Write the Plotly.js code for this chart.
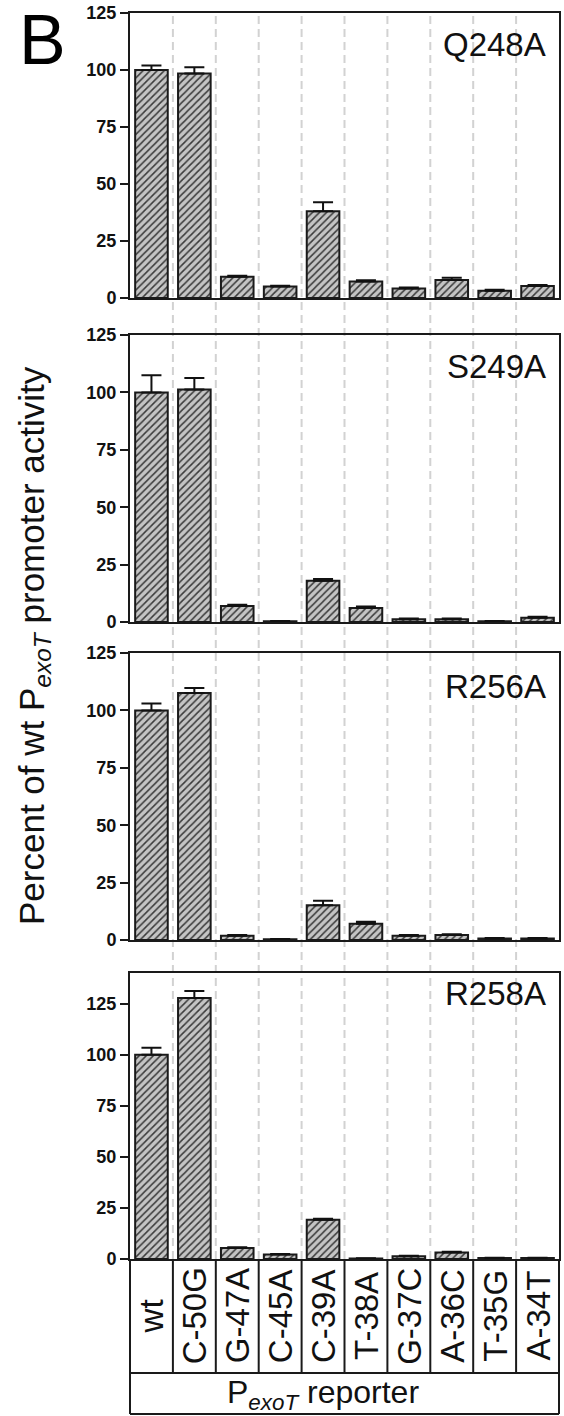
<!DOCTYPE html>
<html>
<head>
<meta charset="utf-8">
<script src="https://cdn.plot.ly/plotly-3.0.1.min.js"></script>
<style>html,body{margin:0;padding:0;background:#fff;}#chart{width:564px;height:1416px;}</style>
</head>
<body>
<div id="chart"></div>
<script>
// ---- data ----
const categories = ['wt', 'C-50G', 'G-47A', 'C-45A', 'C-39A', 'T-38A', 'G-37C', 'A-36C', 'T-35G', 'A-34T'];
const panelNames = ['Q248A', 'S249A', 'R256A', 'R258A'];
const q248a    = [100, 98.5, 9.3, 5.0, 38.0, 7.2, 4.2, 7.9, 3.2, 5.3];
const q248aErr = [2.0, 2.7, 0.5, 0.4, 4.0, 0.6, 0.4, 1.0, 0.4, 0.4];
const s249a    = [100, 101.3, 7.0, 0.3, 18.0, 6.1, 1.2, 1.2, 0.3, 1.9];
const s249aErr = [7.5, 5.0, 0.5, 0.1, 0.7, 0.7, 0.3, 0.3, 0.1, 0.4];
const r256a    = [100, 107.6, 1.9, 0.3, 15.1, 7.1, 1.9, 2.2, 0.7, 0.7];
const r256aErr = [3.0, 2.2, 0.3, 0.1, 2.0, 0.9, 0.3, 0.3, 0.2, 0.2];
const r258a    = [100, 127.8, 5.4, 2.2, 19.2, 0.3, 1.3, 3.2, 0.5, 0.5];
const r258aErr = [3.4, 3.4, 0.4, 0.3, 0.5, 0.1, 0.3, 0.4, 0.1, 0.1];
const yTickVals = [0, 25, 50, 75, 100, 125];
const yTitle = 'Percent of wt P<sub><i>exoT</i></sub> promoter activity';
const xTitle = 'P<sub><i>exoT</i></sub> reporter';
const panelLetter = 'B';

// ---- layout helpers ----
const H = 1416, W = 564;
const py = p => 1 - p / H;            // pixel row -> paper y
const xDomain = [130 / W, 559 / W];
const panelPix = [[13, 298], [335, 622], [653, 940], [973, 1259]];
const yRanges = [[0, 125], [0, 125], [0, 125], [0, 140]];
const labelY = [0.89, 0.89, 0.885, 0.93];
const values = [q248a, s249a, r256a, r258a];
const errors = [q248aErr, s249aErr, r256aErr, r258aErr];
const FONT = 'Liberation Sans, Arial, sans-serif';

const traces = [];
const layout = {
  width: W, height: H,
  margin: {l: 0, r: 0, t: 0, b: 0},
  paper_bgcolor: '#ffffff',
  plot_bgcolor: 'rgba(0,0,0,0)',
  showlegend: false,
  font: {family: FONT, color: '#111'},
  shapes: [],
  annotations: []
};

values.forEach((vals, i) => {
  const n = i + 1;
  traces.push({
    type: 'bar',
    x: categories,
    y: vals,
    xaxis: 'x' + n,
    yaxis: 'y' + n,
    width: 0.76,
    marker: {
      color: '#c4c4c4',
      line: {color: '#1a1a1a', width: 2},
      pattern: {shape: '/', fgcolor: '#3a3a3a', bgcolor: '#c4c4c4', size: 5, solidity: 0.3}
    },
    error_y: {
      type: 'data', symmetric: false,
      array: errors[i], arrayminus: errors[i].map(() => 0),
      color: '#111', thickness: 2, width: 10
    },
    hoverinfo: 'skip'
  });
  layout['xaxis' + n] = {
    domain: xDomain, anchor: 'y' + n, type: 'category',
    range: [-0.5, categories.length - 0.5],
    showline: true, mirror: true, linecolor: '#1a1a1a', linewidth: 2,
    showticklabels: false, ticks: '', showgrid: false, zeroline: false
  };
  layout['yaxis' + n] = {
    domain: [py(panelPix[i][1]), py(panelPix[i][0])], anchor: 'x' + n,
    range: yRanges[i], tickvals: yTickVals, ticktext: yTickVals.map(String),
    showline: true, mirror: true, linecolor: '#1a1a1a', linewidth: 2,
    ticks: 'outside', ticklen: 8, tickwidth: 2, tickcolor: '#1a1a1a',
    tickfont: {family: FONT, size: 18, color: '#111', weight: 'bold'},
    showgrid: false, zeroline: false
  };
  layout.annotations.push({
    text: panelNames[i], showarrow: false,
    xref: 'x' + n + ' domain', yref: 'y' + n + ' domain',
    x: 0.975, y: labelY[i], xanchor: 'right', yanchor: 'middle',
    font: {family: FONT, size: 33, color: '#111'}
  });
});

// dashed category separators running through all panels
for (let k = 0; k < categories.length - 1; k++) {
  layout.shapes.push({
    type: 'line', layer: 'below', xref: 'x4', yref: 'paper',
    x0: k + 0.5, x1: k + 0.5, y0: py(1259), y1: py(13),
    line: {color: '#d2d2d2', width: 2, dash: '8px,5px'}
  });
  // solid separators in the label box
  layout.shapes.push({
    type: 'line', xref: 'x4', yref: 'paper',
    x0: k + 0.5, x1: k + 0.5, y0: py(1373), y1: py(1259),
    line: {color: '#1a1a1a', width: 2}
  });
}
// label box frame under the last panel
[[0, 0, py(1414), py(1259)], [1, 1, py(1414), py(1259)]].forEach(s => {
  layout.shapes.push({type: 'line', xref: 'x4 domain', yref: 'paper', x0: s[0], x1: s[1], y0: s[2], y1: s[3],
    line: {color: '#1a1a1a', width: 2}});
});
[py(1373), py(1414)].forEach(yy => {
  layout.shapes.push({type: 'line', xref: 'x4 domain', yref: 'paper', x0: 0, x1: 1, y0: yy, y1: yy,
    line: {color: '#1a1a1a', width: 2}});
});

// category labels (rotated) in the label box
categories.forEach(c => {
  layout.annotations.push({
    text: c, showarrow: false, xref: 'x4', yref: 'paper',
    x: c, y: py(1316), xanchor: 'center', yanchor: 'middle', textangle: -90,
    font: {family: FONT, size: 33, color: '#111'}
  });
});
// x title in the bottom box
layout.annotations.push({
  text: xTitle, showarrow: false, xref: 'x4 domain', yref: 'paper',
  x: 0.45, y: py(1394), xanchor: 'center', yanchor: 'middle',
  font: {family: FONT, size: 32, color: '#111'}
});
// shared y title
layout.annotations.push({
  text: yTitle, showarrow: false, xref: 'paper', yref: 'paper',
  x: 34 / W, y: py(646), xanchor: 'center', yanchor: 'middle', textangle: -90,
  font: {family: FONT, size: 35, color: '#111'}
});
// panel letter
layout.annotations.push({
  text: panelLetter, showarrow: false, xref: 'paper', yref: 'paper',
  x: 42 / W, y: 1, xanchor: 'center', yanchor: 'top', borderpad: 0,
  font: {family: FONT, size: 70, color: '#000'}
});

Plotly.newPlot('chart', traces, layout, {staticPlot: true, displayModeBar: false});
</script>
</body>
</html>
